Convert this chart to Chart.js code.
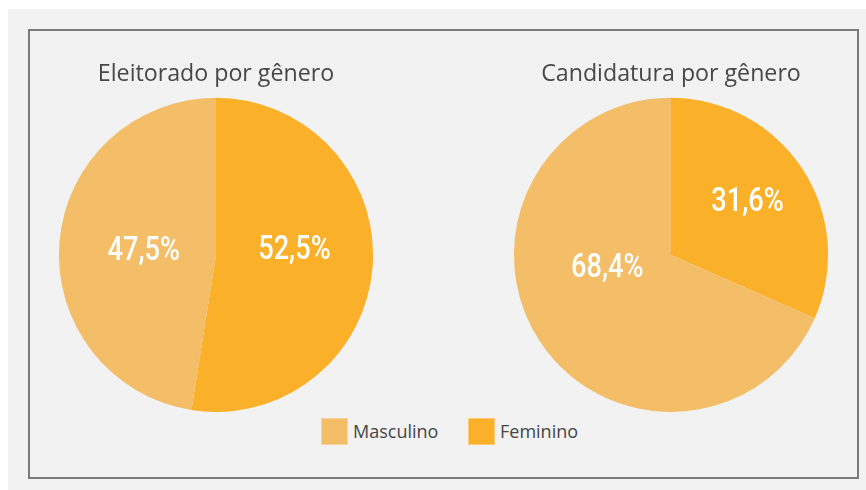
<!DOCTYPE html>
<html>
<head>
<meta charset="utf-8">
<script src="https://cdn.jsdelivr.net/npm/chart.js@4/dist/chart.umd.min.js"></script>
<style>
  html, body { margin: 0; padding: 0; background: #ffffff; }
  body { width: 866px; height: 490px; position: relative; overflow: hidden; font-family: "Open Sans", sans-serif; }
  #bg { position: absolute; left: 8px; top: 9px; width: 858px; height: 481px; background: #f2f2f2; }
  #frame { position: absolute; left: 28px; top: 29px; width: 827px; height: 446px; border: 2px solid #7a7a7a; }
  .chartbox { position: absolute; top: 50px; width: 340px; height: 362px; }
  .chartbox canvas { width: 340px !important; height: 362px !important; }
  #legend { position: absolute; left: 0; top: 418px; width: 866px; height: 27px; }
  .item { position: absolute; top: 0; height: 27px; display: flex; align-items: center; }
  .sw { width: 27px; height: 27px; box-sizing: border-box; border: 1px solid rgba(255,255,255,0.35); margin-right: 5px; }
  .lt { font-family: "Open Sans", sans-serif; font-size: 18px; color: #454545; line-height: 27px; }
</style>
</head>
<body>
<div id="bg"></div>
<div id="frame"></div>
<div class="chartbox" style="left:46px"><canvas id="c1" width="340" height="362"></canvas></div>
<div class="chartbox" style="left:501px"><canvas id="c2" width="340" height="362"></canvas></div>
<div id="legend">
  <div class="item" style="left:321px"><div class="sw" id="sw0"></div><span class="lt" id="lt0"></span></div>
  <div class="item" style="left:468px"><div class="sw" id="sw1"></div><span class="lt" id="lt1"></span></div>
</div>
<script>
// ---- data ----
const categories = ["Feminino", "Masculino"];
const legendOrder = ["Masculino", "Feminino"];
const chartTitles = ["Eleitorado por gênero", "Candidatura por gênero"];
const eleitorado = [52.5, 47.5];
const candidatura = [31.6, 68.4];
const eleitoradoLabels = ["52,5%", "47,5%"];
const candidaturaLabels = ["31,6%", "68,4%"];

// ---- styles ----
const colors = { "Feminino": "#fbb02a", "Masculino": "#f3be67" };

const sliceLabels = {
  id: "sliceLabels",
  afterDatasetsDraw(chart, args, opts) {
    const ctx = chart.ctx;
    const meta = chart.getDatasetMeta(0);
    meta.data.forEach((arc, i) => {
      const p = arc.getProps(["x", "y", "startAngle", "endAngle", "outerRadius"], true);
      const place = (opts.place && opts.place[i]) || {};
      const ang = place.angle !== undefined ? place.angle * Math.PI / 180 : (p.startAngle + p.endAngle) / 2;
      const r = p.outerRadius * (place.r !== undefined ? place.r : 0.5);
      const x = p.x + Math.cos(ang) * r;
      const y = p.y + Math.sin(ang) * r;
      ctx.save();
      ctx.translate(x, y);
      ctx.scale(0.8, 1);
      ctx.font = "500 34px Roboto";
      ctx.fillStyle = "#ffffff";
      ctx.textAlign = "center";
      ctx.textBaseline = "middle";
      ctx.fillText(opts.labels[i], 0, 0);
      ctx.restore();
    });
  }
};

function makePie(id, values, labels, title, place) {
  return new Chart(document.getElementById(id), {
    type: "pie",
    data: {
      labels: categories,
      datasets: [{
        data: values,
        backgroundColor: categories.map(c => colors[c]),
        borderWidth: 0,
        hoverOffset: 0
      }]
    },
    options: {
      responsive: false,
      animation: false,
      layout: { padding: 0 },
      plugins: {
        legend: { display: false },
        tooltip: { enabled: false },
        title: {
          display: true,
          text: title,
          color: "#474747",
          font: { family: "Open Sans", size: 23.2, weight: "normal" },
          padding: { top: 10, bottom: 10 }
        },
        sliceLabels: { labels: labels, place: place }
      }
    },
    plugins: [sliceLabels]
  });
}

makePie("c1", eleitorado, eleitoradoLabels, chartTitles[0], [{ r: 0.5, angle: -3 }, { r: 0.46, angle: 183 }]);
makePie("c2", candidatura, candidaturaLabels, chartTitles[1], [{ r: 0.59, angle: -34.3 }, { r: 0.415, angle: 167.7 }]);

legendOrder.forEach((c, i) => {
  document.getElementById("sw" + i).style.background = colors[c];
  document.getElementById("lt" + i).textContent = c;
});
</script>
</body>
</html>
